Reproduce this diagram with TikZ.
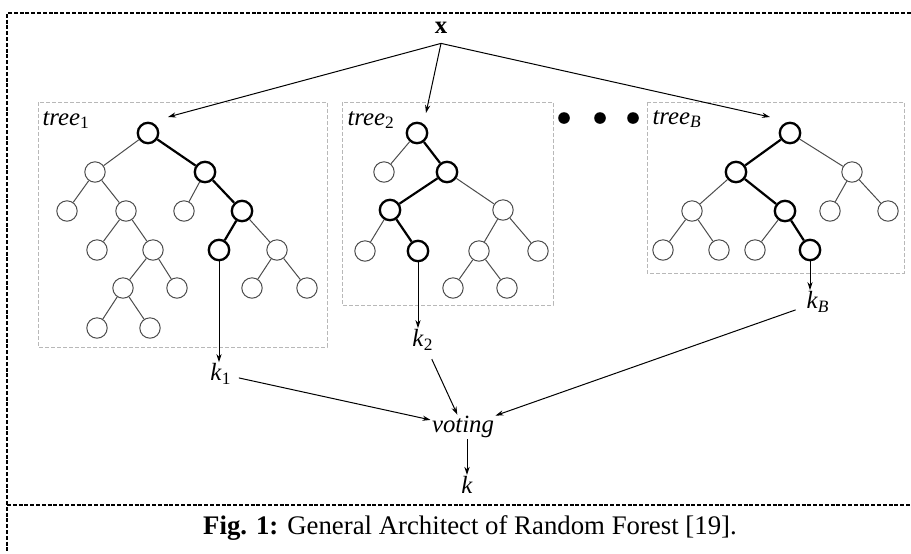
\documentclass[tikz,border=0pt]{standalone}
\usepackage{fontspec}
\setmainfont{Liberation Serif}
\usepackage{tikz}
\usetikzlibrary{arrows.meta}

\tikzset{
    leaf/.style={circle, draw=black!70, line width=0.5pt, minimum size=10.2pt, inner sep=0pt},
    hit/.style={leaf, draw=black, line width=1.15pt},
    branch/.style={draw=black!70, line width=0.5pt},
    chosen/.style={draw=black, line width=1.1pt},
    treebox/.style={draw=black!28, line width=0.5pt, dash pattern=on 2pt off 1pt},
    frame/.style={draw=black, line width=1pt, dash pattern=on 2pt off 0.9pt},
    lbl/.style={font=\fontsize{12.4}{14}\selectfont, inner sep=0.5pt},
    dot/.style={circle, fill=black, minimum size=5.8pt, inner sep=0pt}
}

\begin{document}
\begin{tikzpicture}[x=0.5pt, y=-0.5pt, >={Stealth[length=4pt, width=2.6pt]}, line width=0.5pt]
        \useasboundingbox (0,0) rectangle (911,553);

        % Frame
        \draw[frame] (911,13) -- (7,13) -- (7,553);
        \draw[frame] (7,505) -- (911,505);

        % Boxes
        \draw[treebox] (38,102) rectangle (327,347);
        \draw[treebox] (342,102) rectangle (553,305);
        \draw[treebox] (647,102) rectangle (904,273);

        % Nodes
        \node (x) [lbl, inner sep=4.6pt] at (441,28) {\textbf{x}};
        \node (t1) [lbl, anchor=west] at (41,120) {\textit{tree}\textsubscript{1}};
        \node (t2) [lbl, anchor=west] at (346,120) {\textit{tree}\textsubscript{2}};
        \node (tB) [lbl, anchor=west] at (651,119) {\textit{tree}\textsubscript{\textit{B}}};
        \node (d1) [dot] at (564,118) {};
        \node (d2) [dot] at (600,118) {};
        \node (d3) [dot] at (633,118) {};

        % tree 1
        \node (a0) [hit] at (148,133) {};
        \node (a1) [leaf] at (95,172) {};
        \node (a2) [hit] at (205,172) {};
        \node (a3) [leaf] at (67,211) {};
        \node (a4) [leaf] at (126,211) {};
        \node (a5) [leaf] at (184,211) {};
        \node (a6) [hit] at (242,211) {};
        \node (a7) [leaf] at (97,250) {};
        \node (a8) [leaf] at (153,250) {};
        \node (a9) [hit] at (219,250) {};
        \node (a10) [leaf] at (277,250) {};
        \node (a11) [leaf] at (123,288) {};
        \node (a12) [leaf] at (177,288) {};
        \node (a13) [leaf] at (252,288) {};
        \node (a14) [leaf] at (307,288) {};
        \node (a15) [leaf] at (97,328) {};
        \node (a16) [leaf] at (150,328) {};

        % tree 2
        \node (b0) [hit] at (417,133) {};
        \node (b1) [leaf] at (384,172) {};
        \node (b2) [hit] at (447,172) {};
        \node (b3) [hit] at (390,210) {};
        \node (b4) [leaf] at (503,210) {};
        \node (b5) [leaf] at (365,251) {};
        \node (b6) [hit] at (418,251) {};
        \node (b7) [leaf] at (479,251) {};
        \node (b8) [leaf] at (538,251) {};
        \node (b9) [leaf] at (453,288) {};
        \node (b10) [leaf] at (507,288) {};

        % tree B
        \node (c0) [hit] at (790,133) {};
        \node (c1) [hit] at (736,172) {};
        \node (c2) [leaf] at (852,172) {};
        \node (c3) [leaf] at (692,211) {};
        \node (c4) [hit] at (785,211) {};
        \node (c5) [leaf] at (830,211) {};
        \node (c6) [leaf] at (888,211) {};
        \node (c7) [leaf] at (663,250) {};
        \node (c8) [leaf] at (719,250) {};
        \node (c9) [leaf] at (755,250) {};
        \node (c10) [hit] at (810,250) {};

        % outputs
        \node (k1) [lbl] at (221,374) {\textit{k}\textsubscript{1}};
        \node (k2) [lbl] at (423,340) {\textit{k}\textsubscript{2}};
        \node (kB) [lbl] at (818,302) {\textit{k}\textsubscript{\textit{B}}};
        \node (vote) [lbl] at (463,427) {\textit{voting}};
        \node (k) [lbl] at (467,485) {\textit{k}};
        \node (cap) [font=\fontsize{13.4}{16}\selectfont] at (470,528) {\textbf{Fig. 1:} General Architect of Random Forest [19].};

        \coordinate (in1) at (168,117);
        \coordinate (in2) at (426,113);
        \coordinate (inB) at (770,117);

        % Edges
        \foreach \u/\v in {a0/a1, a1/a3, a1/a4, a4/a7, a4/a8, a8/a11, a8/a12, a11/a15, a11/a16,
                           a2/a5, a6/a10, a10/a13, a10/a14,
                           b0/b1, b2/b4, b3/b5, b4/b7, b4/b8, b7/b9, b7/b10,
                           c0/c2, c1/c3, c2/c5, c2/c6, c3/c7, c3/c8, c4/c9}
            \draw[branch] (\u) -- (\v);
        \foreach \u/\v in {a0/a2, a2/a6, a6/a9, b0/b2, b2/b3, b3/b6, c0/c1, c1/c4, c4/c10}
            \draw[chosen] (\u) -- (\v);

        \draw[->] (x.south) -- (in1);
        \draw[->] (x.south) -- (in2);
        \draw[->] (x.south) -- (inB);
        \draw[->] (a9) -- (a9 |- k1.north);
        \draw[->] (b6) -- (b6 |- k2.north);
        \draw[->] (c10) -- (c10 |- kB.north);
        \draw[->, shorten <=3pt] (k1) -- (vote);
        \draw[->, shorten <=4pt] (k2) -- (vote);
        \draw[->, shorten <=5pt] (kB) -- (vote);
        \draw[->] (vote.south -| k) -- (k);
    \end{tikzpicture}
\end{document}
